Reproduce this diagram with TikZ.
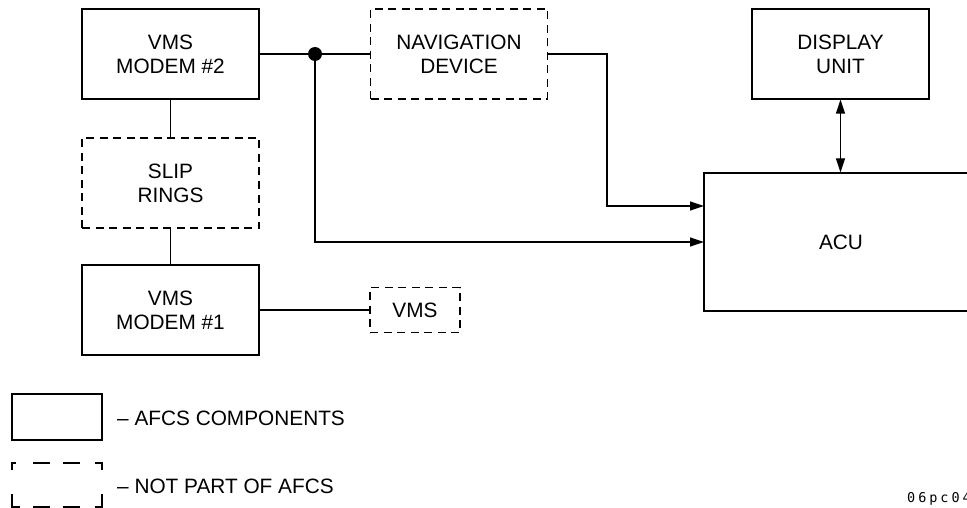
\documentclass[tikz,border=0pt]{standalone}
\usepackage{fontspec}
\setmainfont{Liberation Sans}
\newfontfamily\codefont[LetterSpace=22]{DejaVu Sans Mono}
\usetikzlibrary{arrows.meta}
\begin{document}
\begin{tikzpicture}[x=1pt,y=-1pt,
  box/.style={draw, line width=1.2pt, minimum width=177pt, minimum height=90pt,
    align=center, inner sep=0pt, font=\fontsize{20.8}{24}\selectfont},
  dbox/.style={box, dash pattern=on 8pt off 5.5pt},
  wire/.style={line width=1.2pt},
  tip/.tip={Triangle[length=14pt,width=9pt]},
  arr/.style={wire, -tip},
  legtext/.style={anchor=base west, inner sep=0pt, font=\fontsize{20.8}{24}\selectfont}]
\clip (0,0) rectangle (967,508);
\useasboundingbox (0,0) rectangle (967,508);
% blocks
\node[box]  (m2)   at (170.5,54)  {VMS\\MODEM \#2};
\node[dbox] (slip) at (170.5,183) {SLIP\\RINGS};
\node[box]  (m1)   at (170.5,310) {VMS\\MODEM \#1};
\node[dbox] (nav)  at (459,54)    {NAVIGATION\\DEVICE};
\node[dbox, minimum width=90pt, minimum height=45pt] (vms) at (415,310) {VMS};
\node[box]  (disp) at (840.5,54)  {DISPLAY\\UNIT};
\node[box, minimum width=274pt, minimum height=138pt] (acu) at (841,242) {ACU};
% connectors
\coordinate (j) at (315,54);
\coordinate (bend) at (607,54);
\coordinate (in1) at (704,206);
\coordinate (in2) at (704,242);
\draw[wire] (m2.east) -- (nav.west);
\fill (j) circle (7pt);
\draw[arr] (nav.east) -- (bend) |- (in1);
\draw[arr] (j) |- (in2);
\draw[wire, tip-tip] (disp.south) -- (disp.south |- acu.north);
\draw[wire] (m2.south) -- (slip.north);
\draw[wire] (slip.south) -- (m1.north);
\draw[wire] (m1.east) -- (vms.west);
% legend
\node[draw, line width=1.2pt, minimum width=90pt, minimum height=46pt, inner sep=0pt] (leg1) at (57,417) {};
\node[legtext] (t1) at (117,425) {– AFCS COMPONENTS};
\draw[wire] (12,470) -- (12,463) -- (16,463);
\draw[wire] (33,463) -- (50,463);
\draw[wire] (63,463) -- (80,463);
\draw[wire] (95,463) -- (102,463) -- (102,470);
\draw[wire] (12,494) -- (12,507) -- (20,507);
\draw[wire] (33,507) -- (50,507);
\draw[wire] (63,507) -- (80,507);
\draw[wire] (95,507) -- (102,507) -- (102,494);
\node[legtext] (t2) at (117,493) {– NOT PART OF AFCS};
\node[anchor=base west, inner sep=0pt, font=\codefont\fontsize{13.5}{15}\selectfont] (code) at (907,502) {06pc04};
\end{tikzpicture}
\end{document}
